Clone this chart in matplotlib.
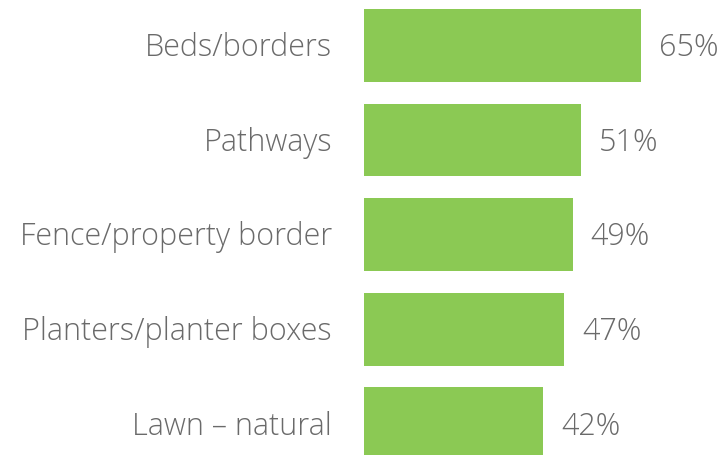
import matplotlib
matplotlib.use('Agg')
import matplotlib.pyplot as plt

categories = ['Beds/borders', 'Pathways', 'Fence/property border',
              'Planters/planter boxes', 'Lawn \u2013 natural']
values = [65, 51, 49, 47, 42]

plt.rcParams['font.family'] = ['Open Sans', 'DejaVu Sans']

fig = plt.figure(figsize=(7.27, 4.56), dpi=100)
ax = fig.add_axes([364 / 727, 0, 363 / 727, 1])

pos = list(range(len(categories)))
ax.barh(pos, values, height=0.77, color='#8bc954')
ax.set_xlim(0, 85.2)
ax.set_ylim(4.33, -0.49)

for y, v, c in zip(pos, values, categories):
    ax.text(v + 4.2, y + 0.02, f'{v}%', va='center', ha='left',
            fontsize=22, color='#6a6a6a', fontweight='light')
    ax.text(-7.5, y + 0.02, c, va='center', ha='right',
            fontsize=22, color='#6a6a6a', fontweight='light', clip_on=False)

ax.axis('off')
fig.savefig('out.png', dpi=100)
